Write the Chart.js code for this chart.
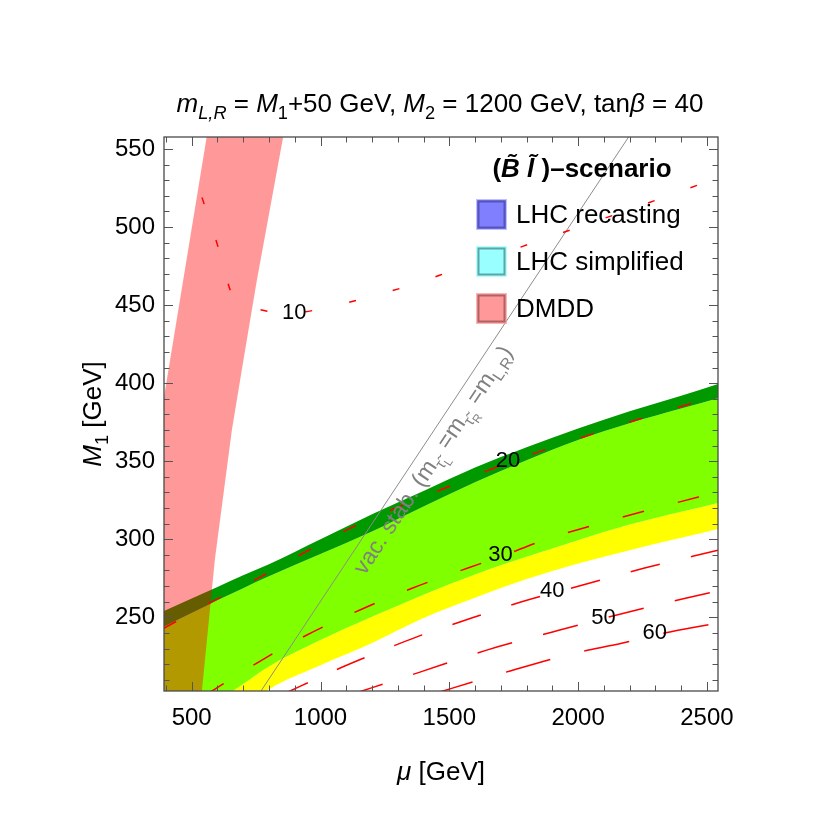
<!DOCTYPE html>
<html><head><meta charset="utf-8">
<script src="https://cdn.jsdelivr.net/npm/chart.js@4.4.0/dist/chart.umd.min.js"></script>
<style>html,body{margin:0;padding:0;background:#fff;}canvas{display:block;}</style>
</head><body>
<canvas id="c" width="830" height="830"></canvas>
<script>
// ---------- data ----------
const muRange = [392.5, 2543];          // x axis: mu [GeV]
const m1Range = [202.8, 557.7];         // y axis: M1 [GeV]
const xTickLabels = [500, 1000, 1500, 2000, 2500];
const yTickLabels = [250, 300, 350, 400, 450, 500, 550];
const xMinorTicks = [400,500,600,700,800,900,1000,1100,1200,1300,1400,1500,1600,1700,1800,1900,2000,2100,2200,2300,2400,2500];
const yMinorTicks = [210,220,230,240,250,260,270,280,290,300,310,320,330,340,350,360,370,380,390,400,410,420,430,440,450,460,470,480,490,500,510,520,530,540,550];

// coloured bands (M1 boundaries sampled on a common mu grid)
const bandMu        = [392.5, 500, 600, 700, 800, 1000, 1200, 1400, 1600, 1800, 2000, 2200, 2400, 2543];
const darkGreenTop  = [254, 262, 269.5, 277, 284, 300, 316, 331, 346, 359, 371, 382, 392, 399.5];
const lightGreenTop = [244, 252.7, 261, 268.7, 276.3, 290.5, 305, 321, 336.5, 350.6, 363.6, 374.4, 383.8, 390.4];
const yellowTop     = [172, 184, 196, 207.3, 218.5, 235.4, 250.3, 264.5, 277.5, 288.8, 299.4, 309.4, 317.6, 323.3];
const yellowBottom  = [160, 170, 180, 192, 204, 219.3, 233.5, 249.5, 262.5, 274.5, 284.5, 293, 300.9, 306.6];

// DMDD excluded band (closed outline)
const dmddMu = [378, 378, 467, 560.4, 857.6, 753, 699, 656, 590, 538];
const dmddM1 = [200, 376.5, 466, 560, 560, 466, 413, 370, 287, 200];

// red dashed contours
const mu10 = [540, 606, 656, 726, 811, 897, 1002, 1176, 1355, 1521, 1870, 2220, 2543];
const m10  = [519, 485.4, 457.2, 449.5, 445.7, 445.1, 447.6, 454.7, 463, 472.6, 492.5, 512.4, 531.6];
const mu20 = [392, 580, 757, 932, 1114, 1494, 1727, 1929, 2123, 2317, 2543];
const m20  = [243, 260, 275, 291, 307, 333.5, 349, 360.5, 371, 381, 392];
const mu30 = [552, 753, 947, 1153, 1358, 1572, 1696, 1870, 2092, 2305, 2543];
const m30  = [200, 220.7, 238.7, 254.7, 268.8, 281.6, 288.7, 299.6, 310.5, 320.1, 330.3];
const mu40 = [845, 1083, 1199, 1374, 1541, 1781, 2018, 2258, 2543];
const m40  = [200, 218, 226, 237.5, 247, 260, 270.7, 281.6, 293];
const mu50 = [1108, 1386, 1645, 1901, 2150, 2421, 2543];
const m50  = [200, 214.9, 229, 240.6, 251.5, 262.4, 266.9];
const mu60 = [1419, 1708, 1987, 2173, 2317, 2543];
const m60  = [200, 214.3, 227.1, 233.5, 239.3, 246.4];
const contourLabels   = ['10', '20', '30', '40', '50', '60'];
const contourLabelMu  = [898, 1728, 1699, 1899.5, 2098.5, 2297];
const contourLabelM1  = [445.2, 350.3, 290.0, 266.7, 249.4, 239.7];

// vacuum stability line
const vacMu = [769, 2196];
const vacM1 = [202.8, 557.7];

// legend
const legendLabels  = ['LHC recasting', 'LHC simplified', 'DMDD'];
const legendFill    = ['rgb(128,128,255)', 'rgb(153,255,255)', 'rgb(255,153,153)'];
const legendBorder  = ['rgb(85,85,185)', 'rgb(95,165,165)', 'rgb(175,100,100)'];
const legendHalo    = ['rgba(150,150,255,0.6)', 'rgba(150,255,255,0.7)', 'rgba(255,150,150,0.7)'];

// ---------- helpers ----------
const FONT = '"Liberation Sans", Arial, Helvetica, sans-serif';
function pts(xs, ys) { return xs.map((x, i) => ({ x: x, y: ys[i] })); }
function fontOf(p, base) {
  return (p.i ? 'italic ' : '') + (p.b ? 'bold ' : '') + (base * (p.s || 1)) + 'px ' + FONT;
}
function richWidth(ctx, parts, base) {
  let w = 0;
  for (const p of parts) { ctx.font = fontOf(p, base); w += ctx.measureText(p.t).width + (p.k || 0); }
  return w;
}
function drawRich(ctx, parts, x, y, base, align) {
  const w = richWidth(ctx, parts, base);
  let cx = align === 'center' ? x - w / 2 : x;
  ctx.textAlign = 'left';
  for (const p of parts) {
    ctx.font = fontOf(p, base);
    ctx.fillText(p.t, cx, y + (p.dy || 0) * base);
    cx += ctx.measureText(p.t).width + (p.k || 0);
  }
}

const contourStyle = [
  { d: mu10, m: m10, dash: [7, 38] },
  { d: mu20, m: m20, dash: [14, 37] },
  { d: mu30, m: m30, dash: [22, 35] },
  { d: mu40, m: m40, dash: [30, 32] },
  { d: mu50, m: m50, dash: [36, 32] },
  { d: mu60, m: m60, dash: [46, 35] }
];

const none = 'rgba(0,0,0,0)';
const smooth = { cubicInterpolationMode: 'monotone' };
const datasets = [
  Object.assign({ label: 'dark green', data: pts(bandMu, darkGreenTop), borderColor: none, borderWidth: 0, backgroundColor: 'rgb(0,153,0)', fill: '+1', order: 10 }, smooth),
  Object.assign({ label: 'light green', data: pts(bandMu, lightGreenTop), borderColor: none, borderWidth: 0, backgroundColor: 'rgb(128,255,0)', fill: '+1', order: 11 }, smooth),
  Object.assign({ label: 'yellow', data: pts(bandMu, yellowTop), borderColor: none, borderWidth: 0, backgroundColor: 'rgb(255,255,0)', fill: '+1', order: 12 }, smooth),
  Object.assign({ label: 'yellow bottom', data: pts(bandMu, yellowBottom), borderColor: none, borderWidth: 0, fill: false, order: 13 }, smooth),
  { label: 'DMDD', data: pts(dmddMu, dmddM1), borderColor: none, borderWidth: 0, backgroundColor: 'rgba(255,0,0,0.4)', fill: 'shape', order: 5 },
  { label: 'vac. stab.', data: pts(vacMu, vacM1), borderColor: 'rgb(140,140,140)', borderWidth: 1, fill: false, order: 3 }
];
contourStyle.forEach((c, i) => {
  datasets.push({ label: 'contour ' + contourLabels[i], data: pts(c.d, c.m), borderColor: 'rgb(255,0,0)', borderWidth: 1.5, borderDash: c.dash, fill: false, order: 2, cubicInterpolationMode: 'monotone' });
});

const decor = {
  id: 'decor',
  afterDatasetsDraw(chart) {
    const ctx = chart.ctx, xs = chart.scales.x, ys = chart.scales.y;
    ctx.save();
    // contour labels
    ctx.fillStyle = '#000';
    ctx.font = '22px ' + FONT;
    ctx.textAlign = 'center';
    ctx.textBaseline = 'middle';
    contourLabels.forEach((t, i) => {
      ctx.fillText(t, xs.getPixelForValue(contourLabelMu[i]), ys.getPixelForValue(contourLabelM1[i]));
    });
    // vacuum stability label along the line
    const p0x = xs.getPixelForValue(vacMu[0]), p0y = ys.getPixelForValue(vacM1[0]);
    const p1x = xs.getPixelForValue(vacMu[1]), p1y = ys.getPixelForValue(vacM1[1]);
    const ang = Math.atan2(p1y - p0y, p1x - p0x);
    ctx.save();
    ctx.translate(xs.getPixelForValue(1172), ys.getPixelForValue(276.5));
    ctx.rotate(ang);
    ctx.fillStyle = 'rgb(128,128,128)';
    ctx.textBaseline = 'alphabetic';
    drawRich(ctx, [
      { t: 'vac. stab. (m' }, { t: 'τ\u0303', s: 0.68, dy: 0.28 }, { t: 'L', s: 0.5, dy: 0.45 },
      { t: ' =m' }, { t: 'τ\u0303', s: 0.68, dy: 0.28 }, { t: 'R', s: 0.5, dy: 0.45 },
      { t: ' =m' }, { t: 'L,R', s: 0.68, dy: 0.25 }, { t: ')' }
    ], 0, 0, 23, 'left');
    ctx.restore();
    ctx.restore();
  },
  afterDraw(chart) {
    const ctx = chart.ctx, xs = chart.scales.x, ys = chart.scales.y, a = chart.chartArea;
    ctx.save();
    // ticks (inward, all four sides)
    ctx.strokeStyle = '#555';
    ctx.lineWidth = 1;
    ctx.beginPath();
    xMinorTicks.forEach(v => {
      const px = Math.round(xs.getPixelForValue(v)) + 0.5;
      const len = xTickLabels.includes(v) ? 9 : 5.5;
      ctx.moveTo(px, a.bottom); ctx.lineTo(px, a.bottom - len);
      ctx.moveTo(px, a.top); ctx.lineTo(px, a.top + len);
    });
    yMinorTicks.forEach(v => {
      const py = Math.round(ys.getPixelForValue(v)) + 0.5;
      const len = yTickLabels.includes(v) ? 9 : 5.5;
      ctx.moveTo(a.left, py); ctx.lineTo(a.left + len, py);
      ctx.moveTo(a.right, py); ctx.lineTo(a.right - len, py);
    });
    ctx.stroke();
    // frame
    ctx.strokeStyle = '#4a4a4a';
    ctx.lineWidth = 1.3;
    ctx.strokeRect(a.left, a.top, a.right - a.left, a.bottom - a.top);

    // title
    ctx.fillStyle = '#000';
    ctx.textBaseline = 'alphabetic';
    drawRich(ctx, [
      { t: 'm', i: 1 }, { t: 'L,R', i: 1, s: 0.7, dy: 0.25 }, { t: ' = ' },
      { t: 'M', i: 1 }, { t: '1', s: 0.7, dy: 0.25 }, { t: '+50 GeV, ' },
      { t: 'M', i: 1 }, { t: '2', s: 0.7, dy: 0.25 }, { t: ' = 1200 GeV, tan' },
      { t: 'β', i: 1 }, { t: ' = 40' }
    ], 440, 112, 26, 'center');

    // axis titles
    drawRich(ctx, [{ t: 'μ', i: 1 }, { t: ' [GeV]' }], 441, 780, 26, 'center');
    ctx.save();
    ctx.translate(101, 414);
    ctx.rotate(-Math.PI / 2);
    drawRich(ctx, [{ t: 'M', i: 1 }, { t: '1', s: 0.7, dy: 0.25 }, { t: ' [GeV]' }], 0, 0, 26, 'center');
    ctx.restore();

    // legend
    drawRich(ctx, [
      { t: '(', b: 1 }, { t: 'B\u0303', b: 1, i: 1 }, { t: ' ' }, { t: 'l\u0303', b: 1, i: 1 }, { t: ' )–scenario', b: 1 }
    ], 582, 177, 26, 'center');
    legendLabels.forEach((lab, i) => {
      const sx = 477, sy = 200 + i * 47, sz = 29;
      ctx.fillStyle = legendFill[i];
      ctx.fillRect(sx, sy, sz, sz);
      ctx.strokeStyle = legendHalo[i];
      ctx.lineWidth = 1;
      ctx.strokeRect(sx - 0.5, sy - 0.5, sz + 1, sz + 1);
      ctx.strokeStyle = legendBorder[i];
      ctx.lineWidth = 2;
      ctx.strokeRect(sx + 1.5, sy + 1.5, sz - 3, sz - 3);
      ctx.fillStyle = '#000';
      ctx.font = '26px ' + FONT;
      ctx.textAlign = 'left';
      ctx.textBaseline = 'middle';
      ctx.fillText(lab, 516, sy + sz / 2 + 1);
    });
    ctx.restore();
  }
};

new Chart(document.getElementById('c'), {
  type: 'line',
  data: { datasets: datasets },
  options: {
    responsive: false,
    animation: false,
    devicePixelRatio: 1,
    layout: { padding: { top: 137, right: 112, left: 0, bottom: 0 } },
    elements: { point: { radius: 0, hoverRadius: 0 }, line: { tension: 0 } },
    plugins: { legend: { display: false }, tooltip: { enabled: false }, filler: { propagate: false } },
    events: [],
    scales: {
      x: {
        type: 'linear', min: muRange[0], max: muRange[1],
        afterFit: s => { s.height = 139; },
        afterBuildTicks: s => { s.ticks = xTickLabels.map(v => ({ value: v })); },
        grid: { display: false, drawTicks: false },
        border: { display: false },
        ticks: { font: { family: FONT, size: 24 }, color: '#000', padding: 13, maxRotation: 0, autoSkip: false, callback: v => String(v) }
      },
      y: {
        type: 'linear', min: m1Range[0], max: m1Range[1],
        afterFit: s => { s.width = 164; },
        afterBuildTicks: s => { s.ticks = yTickLabels.map(v => ({ value: v })); },
        grid: { display: false, drawTicks: false },
        border: { display: false },
        ticks: { font: { family: FONT, size: 24 }, color: '#000', padding: 9, autoSkip: false, callback: v => String(v) }
      }
    }
  },
  plugins: [decor]
});
</script>
</body></html>
